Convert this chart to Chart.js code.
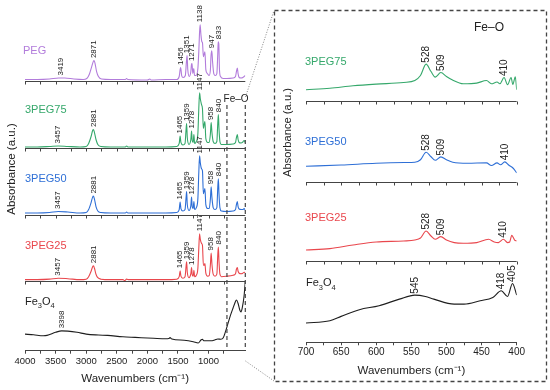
<!DOCTYPE html>
<html>
<head>
<meta charset="utf-8">
<script src="https://cdn.jsdelivr.net/npm/chart.js@4.4.1/dist/chart.umd.min.js"></script>
<style>
  html, body { margin: 0; padding: 0; background: #fff; }
  #wrap { position: relative; width: 550px; height: 390px; overflow: hidden; }
  #left { position: absolute; left: 0; top: 0; }
  #right { position: absolute; left: 276px; top: 12px; }
  #deco { position: absolute; left: 0; top: 0; pointer-events: none; }
</style>
</head>
<body>
<div id="wrap">
  <canvas id="left" width="272" height="390"></canvas>
  <canvas id="right" width="268" height="368"></canvas>
  <svg id="deco" width="550" height="390">
    <rect x="274.5" y="10.5" width="272" height="371" fill="none" stroke="#444" stroke-width="1.3" stroke-dasharray="4 3"/>
    <line x1="245.5" y1="97" x2="274" y2="10.5" stroke="#777" stroke-width="0.9" stroke-dasharray="1 1.6"/>
    <line x1="245.5" y1="361" x2="274" y2="381" stroke="#777" stroke-width="0.9" stroke-dasharray="1 1.6"/>
  </svg>
</div>
<script>
const FONT = '"Liberation Sans", Arial, Helvetica, sans-serif'

// full range spectra: [wavenumber, absorbance above the trace's own axis]
const pegSpectrum = [[4000,0.02],[3800,0.02],[3600,0.025],[3450,0.035],[3350,0.035],[3200,0.025],[3050,0.02],[2990,0.03],[2950,0.07],[2910,0.15],[2885,0.2],[2871,0.21],[2855,0.18],[2830,0.1],[2800,0.05],[2750,0.025],[2600,0.02],[2360,0.02],[2340,0.03],[2320,0.02],[2000,0.015],[1960,0.025],[1940,0.015],[1700,0.02],[1520,0.02],[1480,0.05],[1465,0.12],[1456,0.14],[1440,0.06],[1415,0.04],[1380,0.06],[1362,0.2],[1351,0.26],[1340,0.12],[1315,0.05],[1290,0.1],[1280,0.17],[1271,0.18],[1258,0.08],[1242,0.13],[1230,0.06],[1205,0.06],[1175,0.13],[1160,0.3],[1147,0.5],[1138,0.57],[1125,0.47],[1110,0.4],[1100,0.39],[1085,0.25],[1070,0.28],[1060,0.3],[1045,0.12],[1020,0.08],[990,0.06],[970,0.12],[960,0.26],[947,0.31],[935,0.2],[915,0.08],[890,0.06],[865,0.08],[850,0.28],[843,0.4],[833,0.38],[822,0.12],[805,0.05],[760,0.03],[700,0.03],[600,0.035],[560,0.05],[545,0.1],[530,0.135],[518,0.08],[500,0.04],[470,0.035],[440,0.04],[420,0.05],[400,0.06]]
const peg75Spectrum = [[4000,0.015],[3800,0.015],[3600,0.02],[3457,0.025],[3300,0.02],[3100,0.015],[3000,0.02],[2960,0.05],[2920,0.12],[2895,0.18],[2881,0.19],[2865,0.16],[2840,0.09],[2810,0.04],[2760,0.02],[2600,0.015],[2360,0.015],[2340,0.025],[2320,0.015],[1700,0.015],[1520,0.02],[1480,0.05],[1465,0.125],[1452,0.06],[1420,0.035],[1385,0.05],[1368,0.19],[1359,0.25],[1348,0.11],[1320,0.04],[1290,0.09],[1278,0.175],[1268,0.08],[1252,0.06],[1240,0.14],[1228,0.05],[1200,0.07],[1175,0.15],[1160,0.4],[1147,0.56],[1135,0.5],[1115,0.44],[1100,0.4],[1085,0.2],[1070,0.25],[1060,0.27],[1045,0.1],[1015,0.06],[990,0.06],[970,0.15],[958,0.26],[945,0.16],[925,0.07],[895,0.05],[865,0.07],[850,0.25],[840,0.34],[830,0.2],[815,0.07],[790,0.04],[700,0.04],[600,0.045],[560,0.06],[545,0.11],[530,0.14],[518,0.09],[500,0.06],[470,0.055],[440,0.065],[420,0.08],[400,0.06]]
const peg50Spectrum = [[4000,0.025],[3800,0.025],[3600,0.03],[3457,0.04],[3300,0.035],[3100,0.025],[3000,0.03],[2960,0.06],[2920,0.13],[2895,0.185],[2881,0.195],[2865,0.165],[2840,0.09],[2810,0.045],[2760,0.03],[2600,0.025],[2360,0.025],[2340,0.035],[2320,0.025],[1700,0.025],[1520,0.03],[1480,0.06],[1465,0.135],[1452,0.07],[1420,0.045],[1385,0.06],[1368,0.18],[1359,0.24],[1348,0.11],[1320,0.05],[1290,0.1],[1278,0.185],[1268,0.09],[1252,0.07],[1240,0.14],[1228,0.06],[1200,0.08],[1175,0.17],[1160,0.43],[1147,0.6],[1135,0.53],[1115,0.47],[1100,0.45],[1085,0.22],[1070,0.25],[1060,0.27],[1045,0.11],[1015,0.07],[990,0.07],[970,0.17],[958,0.29],[945,0.18],[925,0.08],[895,0.06],[865,0.08],[850,0.28],[840,0.37],[830,0.22],[815,0.08],[790,0.045],[700,0.04],[600,0.045],[560,0.06],[545,0.11],[530,0.14],[518,0.09],[500,0.065],[470,0.06],[440,0.06],[420,0.07],[400,0.055]]
const peg25Spectrum = [[4000,0.015],[3800,0.015],[3600,0.02],[3457,0.03],[3300,0.025],[3100,0.015],[3000,0.02],[2960,0.045],[2920,0.1],[2895,0.145],[2881,0.155],[2865,0.13],[2840,0.07],[2810,0.035],[2760,0.02],[2600,0.015],[2400,0.015],[2370,0.005],[2340,0.02],[2300,0.015],[1700,0.015],[1520,0.02],[1480,0.045],[1465,0.105],[1452,0.05],[1420,0.03],[1385,0.045],[1368,0.15],[1359,0.195],[1348,0.09],[1320,0.035],[1290,0.075],[1278,0.137],[1268,0.065],[1252,0.05],[1240,0.11],[1228,0.045],[1200,0.06],[1175,0.13],[1160,0.33],[1147,0.477],[1135,0.42],[1115,0.38],[1100,0.36],[1085,0.16],[1070,0.16],[1060,0.177],[1045,0.08],[1015,0.05],[990,0.055],[970,0.17],[958,0.284],[945,0.17],[925,0.07],[895,0.05],[865,0.07],[850,0.26],[840,0.344],[830,0.2],[815,0.07],[790,0.045],[700,0.05],[600,0.06],[560,0.075],[545,0.12],[530,0.137],[518,0.1],[500,0.08],[470,0.075],[440,0.08],[420,0.09],[400,0.085]]
const feSpectrum = [[4000,0.167],[3860,0.16],[3700,0.15],[3640,0.154],[3500,0.185],[3400,0.2],[3300,0.197],[3150,0.185],[3000,0.167],[2800,0.158],[2650,0.154],[2400,0.14],[2200,0.134],[1900,0.125],[1700,0.12],[1650,0.122],[1630,0.132],[1600,0.118],[1400,0.105],[1250,0.09],[1170,0.077],[1120,0.11],[1100,0.115],[1080,0.1],[1030,0.1],[960,0.1],[900,0.108],[850,0.118],[800,0.115],[760,0.13],[720,0.2],[680,0.28],[640,0.36],[600,0.43],[570,0.48],[545,0.51],[520,0.48],[490,0.41],[470,0.39],[450,0.43],[420,0.55],[405,0.66],[400,0.7]]

// peak labels on the full range panel
const pegPeaks = [3419, 2871, 1456, 1351, 1271, 1138, 947, 833]
const compositePeaks = [3457, 2881, 1465, 1359, 1278, 1147, 958, 840]
const fePeaks = [3398]

// Fe-O inset, 700-400 cm-1
const inset75 = [[700,0.117],[666,0.133],[633,0.157],[600,0.174],[561,0.19],[545,0.21],[537,0.26],[529,0.374],[522,0.3],[516,0.244],[508,0.29],[500,0.25],[492,0.217],[476,0.177],[457,0.184],[443,0.21],[436,0.177],[428,0.195],[424,0.177],[418,0.24],[413,0.167],[408,0.24],[405.5,0.17],[402,0.247],[400,0.117]]
const inset50 = [[700,0.16],[650,0.172],[600,0.19],[560,0.197],[545,0.2],[537,0.225],[529,0.3],[522,0.255],[516,0.22],[508,0.254],[500,0.225],[491,0.2],[470,0.19],[443,0.194],[436,0.167],[428,0.194],[423,0.175],[417,0.204],[411,0.17],[405,0.14],[400,0.094]]
const inset25 = [[700,0.11],[666,0.124],[633,0.16],[600,0.19],[561,0.2],[545,0.21],[537,0.23],[529,0.3],[522,0.25],[516,0.217],[508,0.244],[500,0.21],[489,0.184],[476,0.177],[457,0.184],[440,0.217],[432,0.19],[426,0.184],[419,0.217],[413,0.184],[410,0.19],[407,0.257],[403,0.21],[400,0.2]]
const insetFe = [[700,0.193],[666,0.217],[650,0.26],[624,0.327],[596,0.367],[567,0.433],[545,0.473],[530,0.46],[518,0.433],[489,0.383],[475,0.383],[452,0.417],[434,0.45],[422,0.517],[413,0.46],[406,0.59],[400,0.473]]

const inset75Peaks = [[529,'528'],[508,'509'],[418,'410']]
const inset50Peaks = [[529,'528'],[508,'509'],[417,'410']]
const inset25Peaks = [[529,'528'],[508,'509'],[419,'410']]
const insetFePeaks = [[545,'545'],[422,'418'],[406,'405']]

const AXIS_TITLE = 'Wavenumbers (cm\u207B\u00B9)'

// vertical stacking: where each trace's axis sits (a.u.) and where its name goes (px above axis)
const leftSeries = [
    {name: 'PEG', data: pegSpectrum, peaks: pegPeaks.map(p => [p, String(p)]), color: '#B27CDB', off: 2.71, lift: 27, nx: -2},
    {name: '3PEG75', data: peg75Spectrum, peaks: compositePeaks.map(p => [p, String(p)]), color: '#35A86B', off: 2.036, lift: 35, nx: 0},
    {name: '3PEG50', data: peg50Spectrum, peaks: compositePeaks.map(p => [p, String(p)]), color: '#2E6FD6', off: 1.361, lift: 33, nx: 0},
    {name: '3PEG25', data: peg25Spectrum, peaks: compositePeaks.map(p => [p, String(p)]), color: '#E9474D', off: 0.70, lift: 32, nx: 0},
    {name: 'Fe3O4', data: feSpectrum, peaks: fePeaks.map(p => [p, String(p)]), color: '#1E1E1E', off: 0, lift: 46, nx: 0}
]
const rightSeries = [
    {name: '3PEG75', data: inset75, peaks: inset75Peaks, color: '#35A86B', off: 2.416, lift: 36, nx: -1},
    {name: '3PEG50', data: inset50, peaks: inset50Peaks, color: '#2E6FD6', off: 1.606, lift: 37, nx: -1},
    {name: '3PEG25', data: inset25, peaks: inset25Peaks, color: '#E9474D', off: 0.816, lift: 40, nx: -1},
    {name: 'Fe3O4', data: insetFe, peaks: insetFePeaks, color: '#1E1E1E', off: 0, lift: 56, nx: 0}
]

function toPoints(spec, off) {
    return spec.map(([w, a]) => ({x: w, y: a + off}))
}

function makeDatasets(series) {
    return series.map(s => ({
        data: toPoints(s.data, s.off),
        borderColor: s.color,
        borderWidth: 1.1,
        pointRadius: 0,
        fill: false,
        cubicInterpolationMode: 'monotone'
    }))
}

function wnAxis(min, max, step, every, size, pad, titlePad) {
    return {
        type: 'linear', position: 'bottom', min: min, max: max, reverse: true,
        afterBuildTicks: a => { a.ticks = a.ticks.filter(t => t.value % step === 0) },
        ticks: {
            stepSize: step, autoSkip: false, maxRotation: 0, padding: pad,
            color: '#222', font: {family: FONT, size: size},
            callback: v => (v % every === 0) ? String(v) : ''
        },
        grid: {drawOnChartArea: false, drawTicks: true, tickLength: 3, color: '#444', lineWidth: 1},
        border: {display: true, color: '#444', width: 1},
        title: {
            display: true, text: AXIS_TITLE, color: '#222',
            font: {family: FONT, size: 11.5}, padding: {top: titlePad, bottom: 0}
        }
    }
}

// baseline axis with ticks under each stacked trace, placed from the chart's own scales
function addSubAxes(chart, series, dx, dy) {
    const svg = document.getElementById('deco')
    const area = chart.chartArea
    const x = chart.scales.x
    const y = chart.scales.y
    series.forEach(s => {
        if (!(s.off > 0)) return
        const py = Math.round(y.getPixelForValue(s.off)) + 0.5 + dy
        let d = 'M' + (area.left + dx) + ',' + py + 'H' + (area.right + dx)
        x.ticks.forEach(t => {
            const px = Math.round(x.getPixelForValue(t.value)) + 0.5 + dx
            d += 'M' + px + ',' + py + 'v3'
        })
        const path = document.createElementNS('http://www.w3.org/2000/svg', 'path')
        path.setAttribute('d', d)
        path.setAttribute('stroke', '#444')
        path.setAttribute('stroke-width', '1')
        path.setAttribute('fill', 'none')
        svg.appendChild(path)
    })
}

function vText(ctx, text, x, y, size) {
    ctx.save()
    ctx.translate(x, y)
    ctx.rotate(-Math.PI / 2)
    ctx.font = size + 'px ' + FONT
    ctx.fillStyle = '#222'
    ctx.textAlign = 'center'
    ctx.textBaseline = 'middle'
    ctx.fillText(text, 0, 0)
    ctx.restore()
}

function drawName(ctx, name, x, y, size, color) {
    ctx.fillStyle = color
    ctx.textAlign = 'left'
    ctx.textBaseline = 'alphabetic'
    if (name !== 'Fe3O4') {
        ctx.font = size + 'px ' + FONT
        ctx.fillText(name, x, y)
        return
    }
    const parts = [['Fe', size, 0], ['3', size * 0.68, size * 0.32], ['O', size, 0], ['4', size * 0.68, size * 0.32]]
    parts.forEach(([t, s, dy]) => {
        ctx.font = s + 'px ' + FONT
        ctx.fillText(t, x, y + dy)
        x += ctx.measureText(t).width
    })
}

function drawPeaks(chart, series, size, win, gap) {
    const {ctx, scales: {x, y}} = chart
    ctx.save()
    ctx.font = size + 'px ' + FONT
    ctx.fillStyle = '#222'
    ctx.textAlign = 'left'
    ctx.textBaseline = 'middle'
    series.forEach(s => {
        s.peaks.forEach(([at, text]) => {
            let top = -Infinity
            s.data.forEach(([w, a]) => { if (Math.abs(w - at) <= win) top = Math.max(top, a) })
            const px = x.getPixelForValue(at)
            const py = y.getPixelForValue(top + s.off) - gap
            ctx.save()
            ctx.translate(px, py)
            ctx.rotate(-Math.PI / 2)
            ctx.fillText(text, 0, 0)
            ctx.restore()
        })
    })
    ctx.restore()
}

const leftDeco = {
    id: 'leftDeco',
    afterDatasetsDraw(chart) {
        const {ctx, chartArea, scales: {x, y}} = chart
        drawPeaks(chart, leftSeries, 8, 35, 2.5)
        ctx.save()
        leftSeries.forEach(s => drawName(ctx, s.name, chartArea.left + s.nx, y.getPixelForValue(s.off) - s.lift, 11, s.color))
        vText(ctx, 'Absorbance (a.u.)', 12, 169, 11.5)
        // Fe-O window markers
        const xa = x.getPixelForValue(700), xb = x.getPixelForValue(400)
        ctx.strokeStyle = '#444'
        ctx.lineWidth = 1.2
        ctx.setLineDash([4, 3])
        ;[xa, xb].forEach(px => {
            ctx.beginPath()
            ctx.moveTo(px, 105)
            ctx.lineTo(px, chartArea.bottom)
            ctx.stroke()
        })
        ctx.setLineDash([])
        ctx.font = '10px ' + FONT
        ctx.fillStyle = '#222'
        ctx.textAlign = 'center'
        ctx.fillText('Fe\u2013O', (xa + xb) / 2, 101.5)
        ctx.restore()
    }
}

const rightDeco = {
    id: 'rightDeco',
    afterDatasetsDraw(chart) {
        const {ctx, chartArea, scales: {y}} = chart
        drawPeaks(chart, rightSeries, 10, 3, 1.5)
        ctx.save()
        rightSeries.forEach(s => drawName(ctx, s.name, chartArea.left + s.nx, y.getPixelForValue(s.off) - s.lift, 11, s.color))
        vText(ctx, 'Absorbance (a.u.)', 12, 120.5, 11.2)
        ctx.font = '12px ' + FONT
        ctx.fillStyle = '#222'
        ctx.textAlign = 'left'
        ctx.fillText('Fe\u2013O', 198, 19)
        ctx.restore()
    }
}

const leftChart = new Chart(document.getElementById('left'), {
    type: 'line',
    data: {datasets: makeDatasets(leftSeries)},
    options: {
        responsive: false, animation: false, events: [],
        layout: {padding: {left: 25, right: 26.7, top: 3, bottom: 4.1}},
        plugins: {legend: {display: false}, tooltip: {enabled: false}},
        scales: {
            x: wnAxis(400, 4000, 250, 500, 9.5, 2, 3),
            y: {type: 'linear', display: false, min: 0, max: 3.5}
        }
    },
    plugins: [leftDeco]
})

const rightChart = new Chart(document.getElementById('right'), {
    type: 'line',
    data: {datasets: makeDatasets(rightSeries)},
    options: {
        responsive: false, animation: false, events: [],
        layout: {padding: {left: 30, right: 27.3, top: 8, bottom: 1.9}},
        plugins: {legend: {display: false}, tooltip: {enabled: false}},
        scales: {
            x: wnAxis(400, 700, 25, 50, 10, 1, 5),
            y: {type: 'linear', display: false, min: 0, max: 3.233}
        }
    },
    plugins: [rightDeco]
})

addSubAxes(leftChart, leftSeries, 0, 0)
addSubAxes(rightChart, rightSeries, 276, 12)
</script>
</body>
</html>
